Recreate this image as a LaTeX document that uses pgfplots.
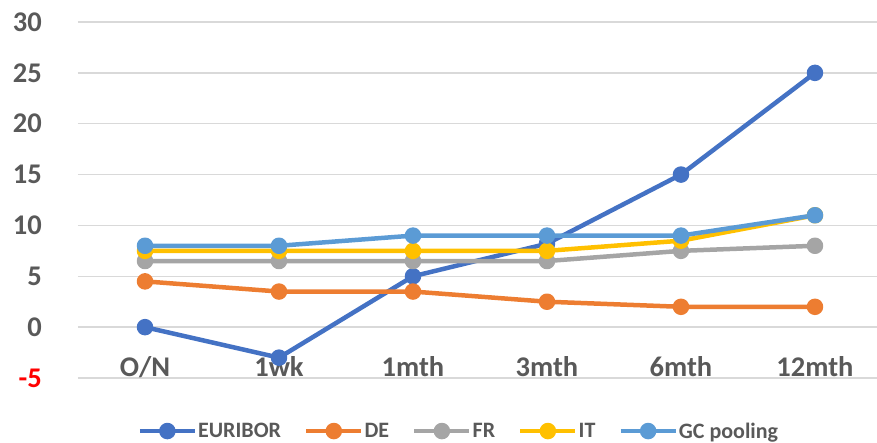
\documentclass[border=0pt]{standalone}
\usepackage{pgfplots}
\pgfplotsset{compat=1.18}
\usepackage{fontspec}
\setmainfont{Carlito}
\definecolor{cEur}{HTML}{4472C4}
\definecolor{cDE}{HTML}{ED7D31}
\definecolor{cFR}{HTML}{A5A5A5}
\definecolor{cIT}{HTML}{FFC000}
\definecolor{cGC}{HTML}{5B9BD5}
\definecolor{tickgray}{HTML}{595959}
\definecolor{gridgray}{HTML}{D9D9D9}
\begin{document}
\begin{tikzpicture}
\path[use as bounding box] (-78pt,-64pt) rectangle (799pt,378pt);
\begin{axis}[
  scale only axis, width=799pt, height=356pt,
  xmin=-0.5, xmax=5.463, ymin=-5, ymax=30,
  axis line style={draw=none}, tick style={draw=none},
  ytick={-5,0,5,10,15,20,25,30},
  yticklabels={\textcolor{red}{-5},0,5,10,15,20,25,30},
  ymajorgrids, grid style={color=gridgray, line width=1.3pt},
  xtick={0,1,2,3,4,5}, xticklabels={O/N,1wk,1mth,3mth,6mth,12mth},
  ticklabel style={font=\fontsize{28.5}{30}\selectfont\bfseries, text=tickgray, inner sep=0pt},
  xticklabel style={anchor=base, yshift=2pt},
  yticklabel style={anchor=east, xshift=-36pt},
  clip=false,
  every axis plot/.append style={line width=4.5pt, line join=round, mark=*, mark size=6pt, mark options={solid}},
  legend columns=5,
  legend style={at={(0.476,-0.149)}, anchor=center, draw=none, fill=none,
    font=\fontsize{22}{24}\selectfont\bfseries, text=tickgray,
    nodes={inner sep=1pt},
    /tikz/every even column/.append style={column sep=22pt}},
  legend cell align=left,
  legend image code/.code={\draw[#1, mark repeat=2, mark phase=2] plot coordinates {(0pt,0pt) (27.5pt,0pt) (55pt,0pt)};},
]
\addplot[color=cEur] coordinates {(0,0) (1,-3) (2,5) (3,8.2) (4,15) (5,25)};
\addlegendentry{EURIBOR}
\addplot[color=cDE] coordinates {(0,4.5) (1,3.5) (2,3.5) (3,2.5) (4,2) (5,2)};
\addlegendentry{DE}
\addplot[color=cFR] coordinates {(0,6.5) (1,6.5) (2,6.5) (3,6.5) (4,7.5) (5,8)};
\addlegendentry{FR}
\addplot[color=cIT] coordinates {(0,7.5) (1,7.5) (2,7.5) (3,7.5) (4,8.5) (5,11)};
\addlegendentry{IT}
\addplot[color=cGC] coordinates {(0,8) (1,8) (2,9) (3,9) (4,9) (5,11)};
\addlegendentry{GC pooling}
\end{axis}
\end{tikzpicture}
\end{document}
